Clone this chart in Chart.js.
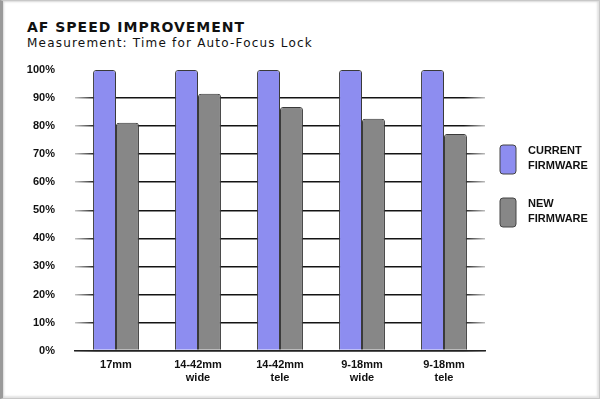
<!DOCTYPE html>
<html>
<head>
<meta charset="utf-8">
<script src="https://cdn.jsdelivr.net/npm/chart.js@4"></script>
<style>
  html, body { margin: 0; padding: 0; background: #fff; }
  #frame {
    position: relative;
    width: 600px; height: 399px;
    box-sizing: border-box;
    border: 1px solid #c8c8c8;
    border-left: 3px solid #9a9a9a;
    box-shadow: inset 1px 1px 2px #d8d8d8, inset -2px -2px 2px #e4e4e4;
    background: #fff;
    overflow: hidden;
  }
  #title {
    position: absolute; left: 24px; top: 18px;
    font: bold 14px "DejaVu Sans", Verdana, sans-serif;
    letter-spacing: 1px; color: #111;
  }
  #subtitle {
    position: absolute; left: 24px; top: 35px;
    font: 12px "DejaVu Sans", Verdana, sans-serif;
    letter-spacing: 1.2px; color: #111;
  }
  canvas { position: absolute; left: -3px; top: -1px; }
</style>
</head>
<body>
<div id="frame">
  <div id="title">AF SPEED IMPROVEMENT</div>
  <div id="subtitle">Measurement: Time for Auto-Focus Lock</div>
  <canvas id="chart" width="600" height="399"></canvas>
</div>
<script>
// lens / focal-length categories
const lenses = [["17mm"], ["14-42mm", "wide"], ["14-42mm", "tele"], ["9-18mm", "wide"], ["9-18mm", "tele"]];

// time to focus lock, relative to current firmware (%)
const currentFirmware = [100, 100, 100, 100, 100];
const newFirmware = [81.2, 91.5, 86.8, 82.6, 77.2];

const seriesNames = [["CURRENT", "FIRMWARE"], ["NEW", "FIRMWARE"]];
const seriesColors = ["#8d8df0", "#878787"];

const labelFont = { family: "'Liberation Sans', Arial, sans-serif", size: 11, weight: "bold" };

// grid lines fade at both ends, none at the top (100%)
function fadeGrid(context) {
  if (context.tick && context.tick.value === 100) return "rgba(0,0,0,0)";
  const chart = context.chart;
  const area = chart.chartArea;
  if (!area) return "#222";
  const g = chart.ctx.createLinearGradient(area.left, 0, area.right + 8, 0);
  g.addColorStop(0, "rgba(20,20,20,0.25)");
  g.addColorStop(0.05, "rgba(20,20,20,1)");
  g.addColorStop(0.93, "rgba(20,20,20,1)");
  g.addColorStop(1, "rgba(20,20,20,0)");
  return g;
}

// legend with two-line labels, on the right
const sideLegend = {
  id: "sideLegend",
  afterDraw(chart) {
    const ctx = chart.ctx;
    ctx.save();
    chart.data.datasets.forEach((ds, i) => {
      const x = 500, y = 145 + i * 53;
      ctx.beginPath();
      ctx.roundRect(x, y, 16, 29, 3);
      ctx.fillStyle = ds.backgroundColor;
      ctx.fill();
      ctx.lineWidth = 1;
      ctx.strokeStyle = "#444";
      ctx.stroke();
      ctx.fillStyle = "#111";
      ctx.font = "bold 11px 'Liberation Sans', Arial, sans-serif";
      ctx.textBaseline = "middle";
      ds.label.forEach((line, k) => {
        ctx.fillText(line, x + 28, y + 6 + k * 15);
      });
    });
    ctx.restore();
  }
};

new Chart(document.getElementById("chart"), {
  type: "bar",
  data: {
    labels: lenses,
    datasets: [
      {
        label: seriesNames[0],
        data: currentFirmware,
        backgroundColor: seriesColors[0],
        borderColor: "#3a3a3a",
        borderWidth: 1,
        borderRadius: { topLeft: 3, topRight: 3 },
        borderSkipped: "bottom"
      },
      {
        label: seriesNames[1],
        data: newFirmware,
        backgroundColor: seriesColors[1],
        borderColor: "#3a3a3a",
        borderWidth: 1,
        borderRadius: { topLeft: 3, topRight: 3 },
        borderSkipped: "bottom"
      }
    ]
  },
  options: {
    responsive: false,
    animation: false,
    layout: { padding: { left: 0, right: 115, top: 70, bottom: 14 } },
    datasets: { bar: { categoryPercentage: 0.56, barPercentage: 1 } },
    plugins: {
      legend: { display: false },
      tooltip: { enabled: false }
    },
    scales: {
      x: {
        grid: { display: false },
        border: { display: true, color: "#222", width: 1.5 },
        ticks: { color: "#111", font: labelFont, padding: 0, maxRotation: 0 }
      },
      y: {
        min: 0, max: 100,
        afterFit(scale) { scale.width = 75; },
        border: { display: false },
        grid: { color: fadeGrid, lineWidth: 1.5, drawTicks: false },
        ticks: {
          stepSize: 10, padding: 20, color: "#111", font: labelFont,
          callback: v => v + "%"
        }
      }
    }
  },
  plugins: [sideLegend]
});
</script>
</body>
</html>
